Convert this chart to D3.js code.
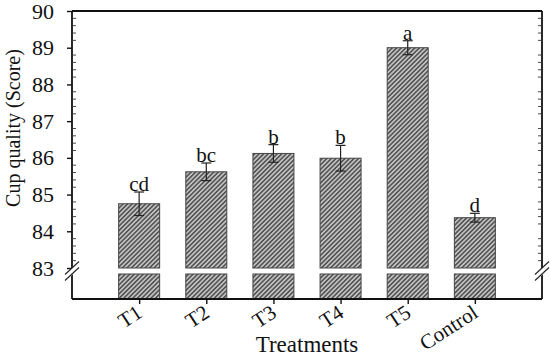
<!DOCTYPE html>
<html lang="en">
<head>
    <meta charset="UTF-8">
    <title>Cup quality by treatment</title>
    <script src="https://cdnjs.cloudflare.com/ajax/libs/d3/7.8.5/d3.min.js"></script>
    <style>
        body {
            margin: 0;
            background: #fff;
            overflow: hidden;
        }
        svg text {
            font-family: "Liberation Serif", "Times New Roman", serif;
            fill: #111;
        }
    </style>
</head>
<body>
    <script>
        // Data
        const treatments = ['T1', 'T2', 'T3', 'T4', 'T5', 'Control'];
        const scores = [84.75, 85.62, 86.12, 85.99, 89.0, 84.37];
        const errors = [0.32, 0.24, 0.24, 0.35, 0.19, 0.12];
        const letters = ['cd', 'bc', 'b', 'b', 'a', 'd'];
        const yTicks = [83, 84, 85, 86, 87, 88, 89, 90];

        const width = 550;
        const height = 359;
        const plotLeft = 72, plotRight = 542, plotTop = 11, plotBottom = 299;
        const breakTop = 268, breakBottom = 274;

        const svg = d3.select('body')
            .append('svg')
            .attr('width', width)
            .attr('height', height);

        // hatch fill for the bars
        const pattern = svg.append('defs')
            .append('pattern')
            .attr('id', 'hatch')
            .attr('patternUnits', 'userSpaceOnUse')
            .attr('width', 3.2)
            .attr('height', 3.2)
            .attr('patternTransform', 'rotate(45)');
        pattern.append('rect')
            .attr('width', 3.2)
            .attr('height', 3.2)
            .attr('fill', '#c2c2c2');
        pattern.append('line')
            .attr('x1', 0.8).attr('y1', 0)
            .attr('x2', 0.8).attr('y2', 3.2)
            .attr('stroke', '#454545')
            .attr('stroke-width', 1.4);

        // Scales
        const x = d3.scalePoint()
            .domain(treatments)
            .range([plotLeft, plotRight])
            .padding(1);
        const barWidth = 41;

        const y = d3.scaleLinear().domain([83, 90]).range([breakTop, plotTop]);
        // lower segment below the axis break
        const yLow = d3.scaleLinear().domain([0, 80]).range([plotBottom, breakBottom]);

        // Bars: upper segment
        svg.append('g')
            .selectAll('rect')
            .data(scores)
            .join('rect')
            .attr('x', (d, i) => x(treatments[i]) - barWidth / 2)
            .attr('y', d => y(d))
            .attr('width', barWidth)
            .attr('height', d => y(83) - y(d))
            .attr('fill', 'url(#hatch)')
            .attr('stroke', '#444')
            .attr('stroke-width', 1);

        // Bars: lower segment
        svg.append('g')
            .selectAll('rect')
            .data(scores)
            .join('rect')
            .attr('x', (d, i) => x(treatments[i]) - barWidth / 2)
            .attr('y', d => yLow(Math.min(d, 80)))
            .attr('width', barWidth)
            .attr('height', d => yLow(0) - yLow(Math.min(d, 80)))
            .attr('fill', 'url(#hatch)')
            .attr('stroke', '#444')
            .attr('stroke-width', 1);

        // Error bars
        const err = svg.append('g')
            .attr('stroke', '#222')
            .attr('stroke-width', 1.2);
        scores.forEach((d, i) => {
            const cx = x(treatments[i]);
            err.append('line')
                .attr('x1', cx).attr('x2', cx)
                .attr('y1', y(d + errors[i])).attr('y2', y(d - errors[i]));
            [d + errors[i], d - errors[i]].forEach(v => {
                err.append('line')
                    .attr('x1', cx - 5).attr('x2', cx + 5)
                    .attr('y1', y(v)).attr('y2', y(v));
            });
        });

        // Significance letters
        svg.append('g')
            .selectAll('text')
            .data(letters)
            .join('text')
            .attr('x', (d, i) => x(treatments[i]))
            .attr('y', (d, i) => y(scores[i] + errors[i]) - 1)
            .attr('text-anchor', 'middle')
            .attr('font-size', 21)
            .text(d => d);

        // Frame
        const frame = svg.append('g')
            .attr('stroke', '#111')
            .attr('stroke-width', 1.8)
            .attr('fill', 'none');
        frame.append('line').attr('x1', plotLeft).attr('x2', plotRight).attr('y1', plotTop).attr('y2', plotTop);
        frame.append('line').attr('x1', plotLeft).attr('x2', plotRight).attr('y1', plotBottom).attr('y2', plotBottom);
        frame.append('line').attr('x1', plotLeft).attr('x2', plotLeft).attr('y1', plotTop).attr('y2', plotBottom);
        frame.append('line').attr('x1', plotRight).attr('x2', plotRight).attr('y1', plotTop).attr('y2', plotBottom);

        // Left axis: major ticks out, minor ticks in
        const leftAxis = svg.append('g')
            .attr('transform', `translate(${plotLeft},0)`)
            .call(d3.axisLeft(y).tickValues(yTicks).tickSize(5).tickFormat(d3.format('d')));
        leftAxis.select('.domain').remove();
        leftAxis.selectAll('.tick line').attr('stroke', '#111').attr('stroke-width', 1.4);
        leftAxis.selectAll('.tick text')
            .attr('font-size', 22)
            .attr('x', -18)
            .attr('fill', '#111');

        const minor = d3.range(83, 90.01, 0.2).filter(v => Math.abs(v - Math.round(v)) > 0.01);
        const minorG = svg.append('g')
            .attr('stroke', '#333')
            .attr('stroke-width', 0.9);
        minor.forEach(v => {
            minorG.append('line').attr('x1', plotLeft).attr('x2', plotLeft + 4).attr('y1', y(v)).attr('y2', y(v));
            minorG.append('line').attr('x1', plotRight - 4).attr('x2', plotRight).attr('y1', y(v)).attr('y2', y(v));
        });

        // Bottom axis
        const bottomAxis = svg.append('g')
            .attr('transform', `translate(0,${plotBottom})`)
            .call(d3.axisBottom(x).tickSize(5));
        bottomAxis.select('.domain').remove();
        bottomAxis.selectAll('.tick line').attr('stroke', '#111').attr('stroke-width', 1.4);
        bottomAxis.selectAll('.tick text')
            .attr('font-size', 21)
            .attr('fill', '#111')
            .attr('text-anchor', 'end')
            .attr('dy', null)
            .attr('y', 0)
            .attr('transform', 'translate(4,17) rotate(-33)');

        // Axis break marks
        const breakMid = (breakTop + breakBottom) / 2;
        [plotLeft, plotRight].forEach(ax => {
            const g = svg.append('g').attr('transform', `translate(${ax},${breakMid})`);
            g.append('polygon')
                .attr('points', '-7,6.5 7,-6.5 7,0.5 -7,13.5')
                .attr('transform', 'translate(0,-3)')
                .attr('fill', '#fff');
            g.append('line').attr('x1', -7).attr('y1', 3.5).attr('x2', 7).attr('y2', -9.5)
                .attr('stroke', '#222').attr('stroke-width', 1.1);
            g.append('line').attr('x1', -7).attr('y1', 9.5).attr('x2', 7).attr('y2', -3.5)
                .attr('stroke', '#222').attr('stroke-width', 1.1);
        });

        // Axis titles
        svg.append('text')
            .attr('transform', `translate(20,128) rotate(-90)`)
            .attr('text-anchor', 'middle')
            .attr('font-size', 20)
            .text('Cup quality (Score)');

        svg.append('text')
            .attr('x', (plotLeft + plotRight) / 2)
            .attr('y', 352)
            .attr('text-anchor', 'middle')
            .attr('font-size', 23)
            .text('Treatments');
    </script>
</body>
</html>
